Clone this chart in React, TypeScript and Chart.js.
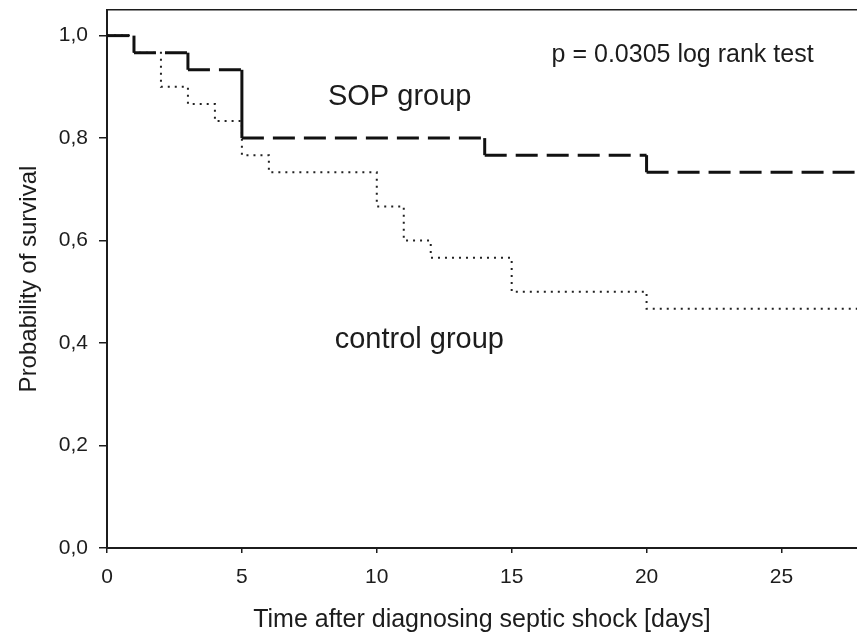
import React, { useEffect, useRef } from "react";
import { Chart, registerables } from "chart.js";

Chart.register(...registerables);

// ---- data ----
const sopDays = [0, 1, 3, 5, 14, 20, 28];
const sopSurvival = [1.0, 0.9667, 0.9333, 0.8, 0.7667, 0.7333, 0.7333];
const controlDays = [0, 1, 2, 3, 4, 5, 6, 10, 11, 12, 15, 20, 28];
const controlSurvival = [1.0, 0.9667, 0.9, 0.8667, 0.8333, 0.7667, 0.7333, 0.6667, 0.6, 0.5667, 0.5, 0.4667, 0.4667];
const xTickValues = [0, 5, 10, 15, 20, 25];
const yTickValues = [0, 0.2, 0.4, 0.6, 0.8, 1.0];
const annotationTexts = ["SOP group", "control group", "p = 0.0305 log rank test"];

const FAMILY = '"Liberation Sans", Arial, Helvetica, sans-serif';
const INK = "#1c1c1c";

// Kaplan-Meier step path: hold previous survival until the event day, then drop.
function kmSteps(days: number[], surv: number[]) {
  const pts: { x: number; y: number }[] = [{ x: days[0], y: surv[0] }];
  for (let i = 1; i < days.length; i++) {
    pts.push({ x: days[i], y: surv[i - 1] });
    if (surv[i] !== surv[i - 1]) pts.push({ x: days[i], y: surv[i] });
  }
  return pts;
}

const annotationPlugin = {
  id: "kmAnnotations",
  afterDatasetsDraw(chart: any, _args: any, opts: any) {
    const { ctx, scales } = chart;
    const xs = scales.x;
    const ys = scales.y;
    ctx.save();
    ctx.fillStyle = INK;
    ctx.textAlign = "left";
    ctx.textBaseline = "alphabetic";
    (opts.items || []).forEach((it: any) => {
      ctx.font = `${it.size}px ${FAMILY}`;
      ctx.fillText(it.text, xs.getPixelForValue(it.x), ys.getPixelForValue(it.y));
    });
    ctx.restore();
  },
};

export default function App() {
  const canvasRef = useRef<HTMLCanvasElement | null>(null);

  useEffect(() => {
    if (!canvasRef.current) return;
    const chart = new Chart(canvasRef.current, {
      type: "line",
      data: {
        datasets: [
          {
            label: "SOP group",
            data: kmSteps(sopDays, sopSurvival),
            borderColor: "#111",
            borderWidth: 3,
            borderDash: [22, 9],
            segment: {
              borderDash: (c: any) => (c.p0.parsed.x === c.p1.parsed.x ? [] : [22, 9]),
            },
            pointRadius: 0,
            tension: 0,
            fill: false,
          },
          {
            label: "control group",
            data: kmSteps(controlDays, controlSurvival),
            borderColor: "#222",
            borderWidth: 2,
            borderDash: [2, 5],
            pointRadius: 0,
            tension: 0,
            fill: false,
          },
        ],
      },
      options: {
        animation: false,
        responsive: false,
        devicePixelRatio: 1,
        layout: { padding: { top: 10, left: 0, right: 0, bottom: 0 } },
        plugins: {
          legend: { display: false },
          tooltip: { enabled: false },
          kmAnnotations: {
            items: [
              { text: annotationTexts[0], x: 8.19, y: 0.865, size: 29 },
              { text: annotationTexts[1], x: 8.44, y: 0.39, size: 29 },
              { text: annotationTexts[2], x: 16.48, y: 0.9485, size: 25 },
            ],
          },
        } as any,
        scales: {
          x: {
            type: "linear",
            position: "bottom",
            min: 0,
            max: 27.8,
            afterBuildTicks: (s: any) => {
              s.ticks = xTickValues.map((v) => ({ value: v }));
            },
            afterFit: (s: any) => {
              s.height = 92;
              s.paddingLeft = 0;
              s.paddingRight = 0;
            },
            grid: { drawOnChartArea: false, drawTicks: true, tickLength: 5, color: INK, lineWidth: 1.5 },
            border: { display: true, color: INK, width: 2 },
            ticks: {
              color: INK,
              font: { size: 21, family: FAMILY },
              padding: 12,
              maxRotation: 0,
              autoSkip: false,
              callback: (v: any) => String(v),
            },
            title: {
              display: true,
              text: "Time after diagnosing septic shock [days]",
              color: INK,
              font: { size: 25, family: FAMILY },
              padding: { top: 0, bottom: 5 },
            },
          },
          x2: {
            type: "linear",
            position: "top",
            min: 0,
            max: 27.8,
            afterFit: (s: any) => {
              s.height = 0;
              s.paddingLeft = 0;
              s.paddingRight = 0;
            },
            grid: { drawOnChartArea: false, drawTicks: false },
            border: { display: true, color: INK, width: 1.5 },
            ticks: { display: false },
          },
          y: {
            type: "linear",
            position: "left",
            min: 0,
            max: 1.05,
            afterBuildTicks: (s: any) => {
              s.ticks = yTickValues.map((v) => ({ value: v }));
            },
            afterFit: (s: any) => {
              s.width = 107;
              s.paddingTop = 0;
              s.paddingBottom = 0;
            },
            grid: { drawOnChartArea: false, drawTicks: true, tickLength: 8, color: INK, lineWidth: 1.5 },
            border: { display: true, color: INK, width: 2 },
            ticks: {
              color: INK,
              font: { size: 21, family: FAMILY },
              padding: 11,
              callback: (v: any) => Number(v).toFixed(1).replace(".", ","),
            },
            title: {
              display: true,
              text: "Probability of survival",
              color: INK,
              font: { size: 24, family: FAMILY },
              padding: { top: 15, bottom: 0 },
            },
          },
        },
      } as any,
      plugins: [annotationPlugin],
    });
    return () => chart.destroy();
  }, []);

  return (
    <div style={{ position: "absolute", left: 0, top: 0, width: 857, height: 640, background: "#fff" }}>
      <canvas ref={canvasRef} width={857} height={640} style={{ display: "block", width: 857, height: 640 }} />
    </div>
  );
}
